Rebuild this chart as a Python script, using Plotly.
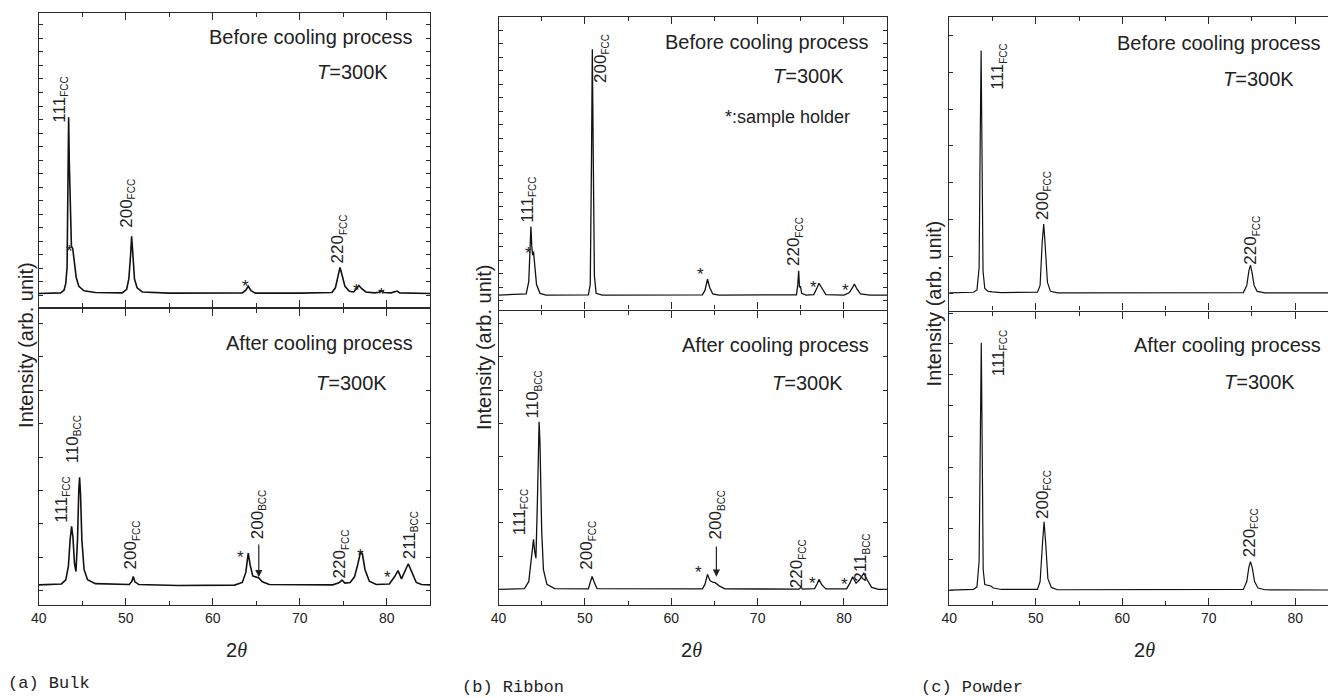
import plotly.graph_objects as go

W, H = 1328, 698

# ---------------- data: (2theta [deg], intensity [arb. unit]) ----------------
bulk_before = [(40.0, 5.1), (42.5, 5.3), (42.9, 6.2), (43.1, 8.5), (43.25, 14), (43.35, 35), (43.43, 64.7),
               (43.5, 50), (43.62, 30), (43.75, 21), (43.9, 20.3), (44.1, 15), (44.3, 10.5), (44.6, 7.5),
               (45.2, 6.0), (46.5, 5.4), (49.6, 5.3), (50.1, 6.5), (50.35, 10), (50.55, 18), (50.67, 24.4),
               (50.8, 19), (51.0, 10), (51.3, 7), (51.9, 5.6), (55.0, 5.2), (60.0, 5.2), (63.4, 5.3),
               (63.8, 6.2), (64.08, 7.5), (64.4, 6.0), (64.9, 5.2), (70.0, 5.2), (73.7, 5.4), (74.1, 7),
               (74.4, 10.5), (74.63, 13.9), (74.85, 11.5), (75.2, 7.5), (75.7, 5.8), (76.2, 5.6),
               (76.55, 6.8), (76.8, 7.8), (77.1, 6.8), (77.6, 5.6), (78.6, 5.3), (79.1, 5.5), (79.4, 6.1),
               (79.7, 5.4), (80.5, 5.3), (80.9, 5.5), (81.2, 5.9), (81.5, 5.3), (83.0, 5.2), (85.0, 5.1)]

bulk_after = [(40.0, 6.8), (42.6, 7.1), (43.1, 8.5), (43.4, 13), (43.6, 22), (43.77, 26.5), (43.92, 23),
              (44.1, 14), (44.27, 11.3), (44.45, 22), (44.6, 39), (44.69, 43.1), (44.8, 37), (44.95, 22),
              (45.2, 12), (45.6, 8.5), (46.5, 7.2), (50.4, 6.9), (50.7, 8), (50.86, 9.6), (51.05, 7.8),
              (51.5, 6.9), (56.0, 6.6), (62.5, 6.7), (63.4, 7.6), (63.8, 11), (64.08, 17.5), (64.3, 13.5),
              (64.6, 9.8), (65.0, 9.3), (65.3, 9.1), (65.7, 7.8), (66.5, 6.9), (73.8, 6.8), (74.5, 7.5),
              (74.86, 8.4), (75.2, 7.4), (75.8, 7.6), (76.3, 9.5), (76.7, 14), (77.0, 18), (77.2, 17.3),
              (77.5, 12), (78.0, 8), (78.8, 6.9), (80.3, 7.1), (80.9, 9.5), (81.3, 11.6), (81.7, 8.8),
              (82.0, 10.8), (82.48, 13.9), (82.9, 11), (83.4, 7.6), (84.0, 6.9), (85.0, 6.8)]

ribbon_before = [(40.0, 5.4), (43.2, 5.8), (43.5, 10), (43.65, 22), (43.75, 28.7), (43.85, 22), (43.95, 19),
                 (44.05, 20.2), (44.2, 15), (44.4, 9), (44.8, 6), (45.5, 5.4), (50.4, 5.5), (50.62, 9),
                 (50.76, 50), (50.86, 89), (50.96, 55), (51.1, 12), (51.3, 6), (52.0, 5.4), (63.6, 5.5),
                 (63.9, 7), (64.2, 10.8), (64.45, 8), (64.8, 5.8), (65.5, 5.4), (74.5, 5.5), (74.65, 9),
                 (74.75, 13.7), (74.85, 8), (74.95, 8.5), (75.1, 6), (75.6, 5.4), (76.5, 5.6), (76.9, 8),
                 (77.1, 9.4), (77.4, 8), (77.9, 5.6), (80.0, 5.4), (80.6, 6.2), (81.0, 8), (81.2, 9.2),
                 (81.5, 7.5), (81.9, 5.8), (83.0, 5.4), (85.0, 5.4)]

ribbon_after = [(40.0, 5.3), (43.0, 5.6), (43.5, 8), (43.85, 16), (44.05, 22.3), (44.2, 18), (44.33, 15.9),
                (44.5, 35), (44.62, 58), (44.7, 62.3), (44.8, 55), (45.0, 25), (45.2, 12), (45.6, 7),
                (46.5, 5.6), (50.4, 5.5), (50.65, 8), (50.84, 9.7), (51.05, 8), (51.4, 5.6), (63.6, 5.5),
                (63.9, 7), (64.2, 10.4), (64.5, 8.2), (64.8, 7.8), (65.1, 7.6), (65.5, 6.6), (66.2, 5.5),
                (74.8, 5.4), (75.0, 6.0), (75.2, 5.4), (76.6, 5.6), (76.9, 7.2), (77.1, 8.7), (77.4, 7.0),
                (77.9, 5.5), (80.3, 5.5), (80.7, 7.5), (81.0, 9.6), (81.4, 7.4), (81.8, 8.6), (82.3, 10.8),
                (82.7, 8.5), (83.2, 6.0), (84.0, 5.3), (85.0, 5.3)]

powder_before = [(40.0, 6.5), (42.8, 6.7), (43.2, 7.5), (43.45, 15), (43.58, 60), (43.68, 88.6), (43.78, 55),
                 (43.9, 14), (44.1, 8), (44.5, 7), (45.0, 6.8), (46.0, 6.6), (50.2, 6.7), (50.5, 9),
                 (50.75, 24), (50.92, 29.8), (51.1, 22), (51.35, 10), (51.7, 7), (52.5, 6.5), (74.0, 6.6),
                 (74.4, 9), (74.65, 14), (74.83, 15.9), (75.0, 13.5), (75.25, 9), (75.6, 7), (76.5, 6.5),
                 (85.0, 6.5)]

powder_after = [(40.0, 5.1), (42.8, 5.3), (43.2, 6.2), (43.45, 15), (43.6, 60), (43.7, 89.5), (43.8, 55),
                (43.92, 12), (44.1, 7), (44.5, 6.6), (44.8, 6.5), (45.1, 5.8), (46.0, 5.3), (50.2, 5.3),
                (50.5, 8), (50.8, 22), (50.96, 28.4), (51.15, 21), (51.4, 9), (51.8, 6), (52.5, 5.2),
                (74.0, 5.3), (74.4, 8), (74.65, 13), (74.83, 14.8), (75.05, 12.5), (75.3, 8), (75.7, 5.8),
                (76.5, 5.2), (85.0, 5.1)]

x_tick_vals = [40, 50, 60, 70, 80]
x_tick_text = ["40", "50", "60", "70", "80"]

# ---------------- layout geometry (pixels) ----------------
# panel: (x0, x1, y_top, y_mid, y_bottom, xmax)
panels = {
    "a": (31, 424.75, 13, 308.5, 605, 85.0),
    "b": (493.5, 884.5, 17, 311, 605, 85.0),
    "c": (947, 1328, 17, 312, 605, 40 + (1328 - 947) / 8.7),
}
# y tick settings per subplot: (tick0, dtick)
ytick_cfg = [(4.4, 4.58), (4.83, 11.26), (3.5, 4.6), (5.3, 11.3), (6.3, 12.5), (5.1, 10.5)]
trace_widths = [1.6, 1.6, 1.3, 1.3, 1.2, 1.2]

series = [bulk_before, bulk_after, ribbon_before, ribbon_after, powder_before, powder_after]

LINE = "#2a2a2a"
LW = 1.4
FONT = "Liberation Sans, Arial, sans-serif"

fig = go.Figure()
layout = dict(width=W, height=H, margin=dict(l=0, r=0, t=0, b=0),
              paper_bgcolor="white", plot_bgcolor="white", showlegend=False,
              font=dict(family=FONT, color="#222"))


def px(x):
    return x / W


def py(y):
    return 1 - y / H


k = 0
for key in ["a", "b", "c"]:
    x0, x1, yt, ym, yb, xmax = panels[key]
    for part in range(2):
        k += 1
        xa = "xaxis" if k == 1 else f"xaxis{k}"
        ya = "yaxis" if k == 1 else f"yaxis{k}"
        xid = "x" if k == 1 else f"x{k}"
        yid = "y" if k == 1 else f"y{k}"
        # the top panel ends LW above the divider so both axis lines overlap exactly
        ydom = [py(ym - LW), py(yt)] if part == 0 else [py(yb), py(ym)]
        layout[xa] = dict(domain=[px(x0), px(x1)], range=[40, xmax], anchor=yid,
                          showline=True, linecolor=LINE, linewidth=LW, mirror="ticks",
                          ticks="inside", ticklen=7, tickwidth=1.3, tickcolor=LINE,
                          tickvals=x_tick_vals, ticktext=x_tick_text,
                          minor=dict(ticks="inside", ticklen=4, tickwidth=1.2, tickcolor=LINE,
                                     dtick=5, tick0=0),
                          showgrid=False, zeroline=False,
                          showticklabels=(part == 1),
                          tickfont=dict(size=14, color="#222"))
        t0, dt = ytick_cfg[k - 1]
        ylo = 0 if part == 1 else (LW / (ym - yt)) * 100
        layout[ya] = dict(domain=ydom, range=[ylo, 100], anchor=xid,
                          showline=True, linecolor=LINE, linewidth=LW,
                          mirror=("ticks" if key != "c" else False),
                          ticks="inside", ticklen=4, tickwidth=1.1, tickcolor=LINE,
                          tick0=t0, dtick=dt, showticklabels=False,
                          showgrid=False, zeroline=False)
        data = series[k - 1]
        fig.add_trace(go.Scatter(x=[p[0] for p in data], y=[p[1] for p in data],
                                 mode="lines", line=dict(color="#111", width=trace_widths[k - 1]),
                                 xaxis=xid, yaxis=yid, hoverinfo="skip"))

ann = []


def text(xp, yp, s, size=20, xanchor="right", yanchor="middle", family=FONT):
    ann.append(dict(x=px(xp), y=py(yp), xref="paper", yref="paper", text=s, showarrow=False,
                    xanchor=xanchor, yanchor=yanchor, font=dict(size=size, family=family, color="#222")))


def peak(xp, yp, num, phase):
    ann.append(dict(x=px(xp), y=py(yp), xref="paper", yref="paper",
                    text=f"{num}<sub><span style='font-size:10px'>{phase}</span></sub>",
                    showarrow=False, textangle=-90, xanchor="center", yanchor="bottom",
                    font=dict(size=17, family=FONT, color="#222")))


def star(xp, yp):
    ann.append(dict(x=px(xp), y=py(yp + 4), xref="paper", yref="paper", text="*", showarrow=False,
                    xanchor="center", yanchor="middle", font=dict(size=17, family=FONT, color="#222")))


def arrow(xp, ytip, ytail):
    ann.append(dict(x=px(xp), y=py(ytip), xref="paper", yref="paper", text="", showarrow=True,
                    ax=0, ay=-(ytip - ytail), axref="pixel", ayref="pixel",
                    arrowhead=2, arrowsize=1.2, arrowwidth=1.2, arrowcolor="#222", standoff=0))


T300 = "<i>T</i>=300K"

# ----- (a) Bulk -----
text(408, 37, "Before cooling process")
text(384, 72, T300)
peak(53, 125, "111", "FCC")
peak(120, 230, "200", "FCC")
peak(333, 265, "220", "FCC")
star(62, 247)
star(239, 283)
star(351, 287)
star(376, 291)

text(409, 343, "After cooling process")
text(383, 383, T300)
peak(54, 525, "111", "FCC")
peak(66, 465.7, "110", "BCC")
peak(124, 571.7, "200", "FCC")
star(234.3, 553.3)
peak(252, 540.7, "200", "BCC")
arrow(252.3, 577.3, 543)
peak(335, 580, "220", "FCC")
star(354.3, 551.7)
star(382.3, 573.3)
peak(405, 561.7, "211", "BCC")

# ----- (b) Ribbon -----
text(867, 42, "Before cooling process")
text(843, 76, T300)
text(849, 117, "*:sample holder", size=18)
peak(523, 225, "111", "FCC")
peak(597, 85, "200", "FCC")
peak(792, 268.3, "220", "FCC")
star(523.3, 250)
star(696.7, 270.7)
star(810, 283.3)
star(842.7, 286)

text(868.3, 345, "After cooling process")
text(842.3, 383.3, T300)
peak(515, 537.3, "111", "FCC")
peak(529, 420.7, "110", "BCC")
peak(583, 571.7, "200", "FCC")
star(695, 568.3)
peak(713, 541.7, "200", "BCC")
arrow(712.7, 576.7, 545)
peak(794.5, 590, "220", "FCC")
star(809.3, 579.3)
star(841.7, 580)
peak(858.5, 583.3, "211", "BCC")

# ----- (c) Powder -----
text(1321.7, 42.7, "Before cooling process")
text(1296, 79.3, T300)
peak(997, 91.7, "111", "FCC")
peak(1041, 221.7, "200", "FCC")
peak(1251, 266.7, "220", "FCC")

text(1322.7, 345, "After cooling process")
text(1297.3, 381.7, T300)
peak(997, 378.3, "111", "FCC")
peak(1041, 520.7, "200", "FCC")
peak(1250, 559.3, "220", "FCC")

# ----- axis titles -----
for xc, yc in [(18, 345), (479, 347), (932, 303)]:
    ann.append(dict(x=px(xc), y=py(yc), xref="paper", yref="paper", text="Intensity (arb. unit)",
                    showarrow=False, textangle=-90, xanchor="center", yanchor="middle",
                    font=dict(size=20, family=FONT, color="#222")))
for xc in [230, 688, 1143]:
    text(xc, 650, "2<span style='font-family:Liberation Serif'><i>θ</i></span>", size=20, xanchor="center")

# ----- captions -----
MONO = "Liberation Mono, monospace"
text(-2, 683, "(a) Bulk", size=17, xanchor="left", family=MONO)
text(455, 687, "(b) Ribbon", size=17, xanchor="left", family=MONO)
text(917, 687, "(c) Powder", size=17, xanchor="left", family=MONO)

layout["annotations"] = ann
fig.update_layout(**layout)
fig.write_html("out.html")
